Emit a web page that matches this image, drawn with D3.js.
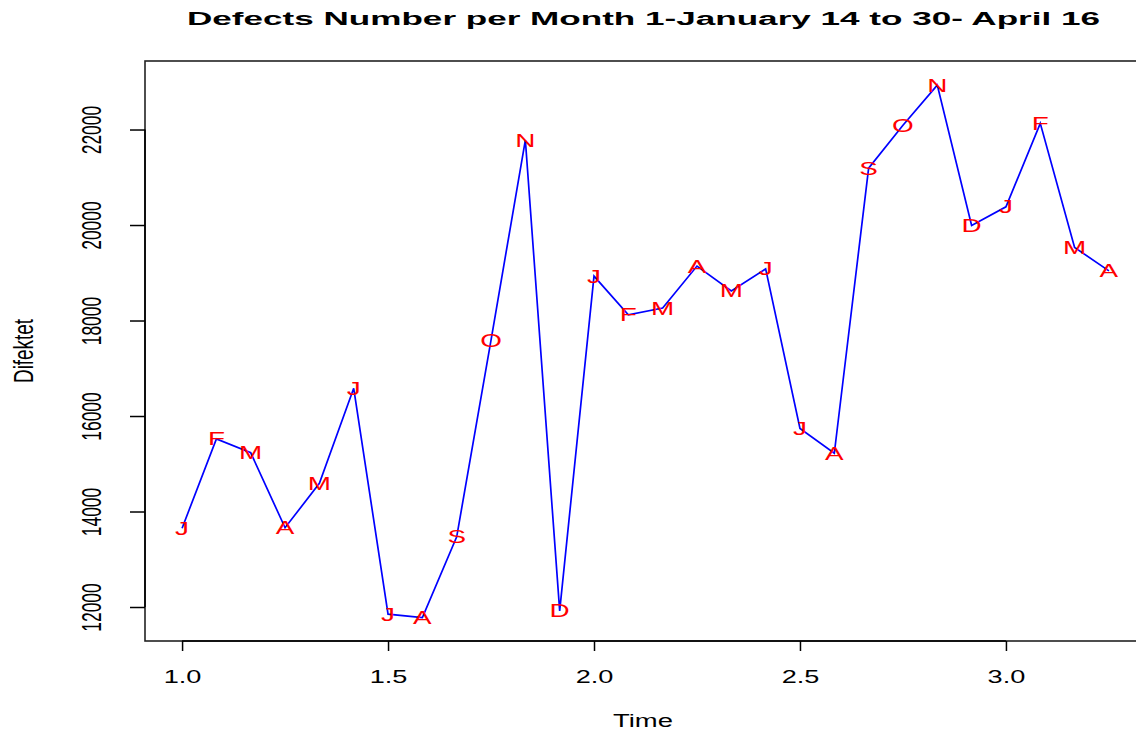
<!DOCTYPE html>
<html>
<head>
<meta charset="utf-8">
<script src="https://cdn.jsdelivr.net/npm/d3@7"></script>
<style>
  body { margin: 0; background: #fff; }
  text { font-family: "Liberation Sans", Arial, sans-serif; }
</style>
</head>
<body>
<script>
// Monthly defects, Jan 2014 .. Apr 2016 (time index 1 = Jan 2014)
const monthLetters = ["J", "F", "M", "A", "M", "J", "J", "A", "S", "O", "N", "D",
                      "J", "F", "M", "A", "M", "J", "J", "A", "S", "O", "N", "D",
                      "J", "F", "M", "A"];
const defects = [13650, 15520, 15230, 13660, 14590, 16580, 11850, 11780, 13470, 17590, 21780, 11920,
                 18930, 18120, 18260, 19140, 18620, 19080, 15740, 15220, 21190, 22090, 22930, 19990,
                 20380, 22130, 19530, 19040];
const xTicks = [1.0, 1.5, 2.0, 2.5, 3.0];
const yTicks = [12000, 14000, 16000, 18000, 20000, 22000];

const dataset = defects.map((v, i) => [1 + i / 12, v, monthLetters[i]]);

const w = 1136;
const h = 733;
const plotLeft = 145, plotRight = 1146, plotTop = 61, plotBottom = 641;
const stretch = 1.55; // picture is wider than tall, text is stretched sideways

const xScale = d3.scaleLinear()
                 .domain([0.91, 3.34])
                 .range([plotLeft, plotRight]);
const yScale = d3.scaleLinear()
                 .domain([11288, 23435])
                 .range([plotBottom, plotTop]);

const svg = d3.select("body")
              .append("svg")
              .attr("width", w)
              .attr("height", h);

// Title
svg.append("text")
   .attr("x", 643.5)
   .attr("y", 24.5)
   .attr("text-anchor", "middle")
   .attr("textLength", 913)
   .attr("lengthAdjust", "spacingAndGlyphs")
   .style("font-weight", "bold")
   .style("font-size", "18px")
   .text("Defects Number per Month 1-January 14 to 30- April 16");

// Box
svg.append("rect")
   .attr("x", plotLeft)
   .attr("y", plotTop)
   .attr("width", plotRight - plotLeft)
   .attr("height", plotBottom - plotTop)
   .attr("fill", "none")
   .attr("stroke", "#222")
   .attr("stroke-width", 1.6);

// X axis
const xAxis = d3.axisBottom(xScale)
                .tickValues(xTicks)
                .tickSize(10)
                .tickFormat(d3.format(".1f"));
const gx = svg.append("g")
              .attr("transform", `translate(0, ${plotBottom})`)
              .call(xAxis);
gx.select(".domain")
  .attr("d", `M${xScale(xTicks[0])},0H${xScale(xTicks[xTicks.length - 1])}`)
  .attr("stroke-width", 1.6);
gx.selectAll(".tick line").attr("stroke-width", 1.5);
gx.selectAll(".tick text")
  .attr("y", 0)
  .attr("dy", 0)
  .attr("transform", `translate(0, 42) scale(${stretch}, 1)`)
  .attr("fill", "#000")
  .style("font-size", "17.5px");

// Y axis
const yAxis = d3.axisLeft(yScale)
                .tickValues(yTicks)
                .tickSize(15)
                .tickFormat(d3.format("d"));
const gy = svg.append("g")
              .attr("transform", `translate(${plotLeft}, 0)`)
              .call(yAxis);
gy.select(".domain")
  .attr("d", `M0,${yScale(yTicks[0])}V${yScale(yTicks[yTicks.length - 1])}`)
  .attr("stroke-width", 1.6);
gy.selectAll(".tick line").attr("stroke-width", 1.5);
gy.selectAll(".tick text")
  .attr("x", 0)
  .attr("dy", 0)
  .attr("text-anchor", "middle")
  .attr("transform", `translate(-44, 0) scale(${stretch}, 1) rotate(-90)`)
  .attr("fill", "#000")
  .style("font-size", "17.5px");

// Axis titles
svg.append("text")
   .attr("x", 643)
   .attr("y", 727)
   .attr("text-anchor", "middle")
   .attr("textLength", 60)
   .attr("lengthAdjust", "spacingAndGlyphs")
   .style("font-size", "17.5px")
   .text("Time");

svg.append("text")
   .attr("transform", `translate(33, ${(plotTop + plotBottom) / 2}) scale(${stretch}, 1) rotate(-90)`)
   .attr("text-anchor", "middle")
   .attr("textLength", 64)
   .attr("lengthAdjust", "spacingAndGlyphs")
   .style("font-size", "17.5px")
   .text("Difektet");

// Line
const line = d3.line()
               .x(d => xScale(d[0]))
               .y(d => yScale(d[1]));
svg.append("path")
   .datum(dataset)
   .attr("d", line)
   .attr("fill", "none")
   .attr("stroke", "blue")
   .attr("stroke-width", 1.7);

// Month letters on top of each point
svg.selectAll(".month")
   .data(dataset)
   .enter()
   .append("text")
   .attr("class", "month")
   .attr("transform", d => `translate(${xScale(d[0])}, ${yScale(d[1])}) scale(${stretch}, 1)`)
   .attr("text-anchor", "middle")
   .attr("dy", "0.36em")
   .attr("fill", "red")
   .style("font-size", "18px")
   .text(d => d[2]);
</script>
</body>
</html>
